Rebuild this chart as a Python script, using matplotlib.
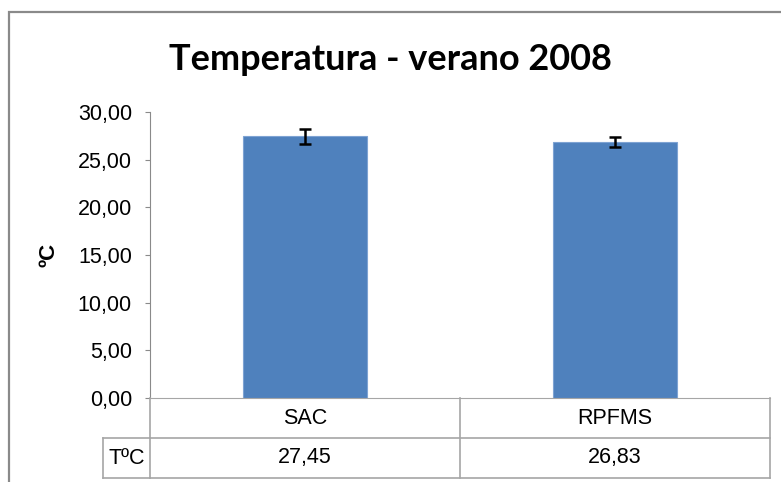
import matplotlib.pyplot as plt
from matplotlib.patches import Rectangle
from matplotlib.lines import Line2D
from matplotlib.transforms import blended_transform_factory

# Datos del gráfico
categorias = ['SAC', 'RPFMS']
temperaturas = [27.45, 26.83]
errores = [0.8, 0.5]
etiqueta_fila = 'TºC'
ticks_y = [0, 5, 10, 15, 20, 25, 30]

W, H = 781, 482
plt.rcParams['font.family'] = ['Liberation Sans', 'DejaVu Sans']
fig = plt.figure(figsize=(W / 100, H / 100), dpi=100)

gris = '#8a8a8a'
gris_tabla = '#a6a6a6'

# Marco exterior del gráfico (recortado a la derecha y abajo)
fig.patches.append(Rectangle((9 / W, -0.2), 1.2, 1.2 - 12 / H, transform=fig.transFigure,
                             fill=False, edgecolor=gris, linewidth=1.6))

# Eje principal
ax = fig.add_axes([150 / W, 1 - 398 / H, 620 / W, 286 / H])
x = range(len(categorias))
ax.bar(x, temperaturas, width=0.4, color='#4f81bd', edgecolor='#7ea3d3', linewidth=0.8,
       yerr=errores, error_kw=dict(ecolor='black', elinewidth=1.8, capsize=4, capthick=1.8))
ax.set_xlim(-0.5, len(categorias) - 0.5)
ax.set_ylim(0, 30)
ax.set_yticks(ticks_y)
ax.set_yticklabels([f'{v:.2f}'.replace('.', ',') for v in ticks_y], fontsize=15.5)
ax.set_xticks([])
for s in ['top', 'right']:
    ax.spines[s].set_visible(False)
ax.spines['left'].set_color(gris)
ax.spines['bottom'].set_color(gris_tabla)
ax.tick_params(axis='y', length=3.6, color=gris, pad=9.4)
ax.set_ylabel('ºC', fontsize=16, fontweight='bold', labelpad=13)

fig.text(390 / W, 1 - 70 / H, 'Temperatura - verano 2008', ha='center', va='baseline',
         fontsize=26, fontweight='bold', family=['Lato', 'DejaVu Sans'])

# Tabla de datos bajo el eje
tab = fig.add_axes([150 / W, 1 - 478 / H, 620 / W, 80 / H])
tab.set_xlim(ax.get_xlim())
tab.set_ylim(0, 2)
tab.axis('off')
tr = blended_transform_factory(ax.transData, tab.transData)
lx = -0.5 - 47 / 620 * len(categorias)

lineas = [
    ([-0.5, 1.5], [1, 1]),
    ([-0.5, 1.5], [0, 0]),
    ([lx, -0.5], [1, 1]),
    ([lx, -0.5], [0, 0]),
    ([lx, lx], [0, 1]),
    ([-0.5, -0.5], [0, 2]),
    ([0.5, 0.5], [0, 2]),
    ([1.5, 1.5], [0, 2]),
]
for xs, ys in lineas:
    tab.add_line(Line2D(xs, ys, transform=tr, color=gris_tabla, linewidth=1.2, clip_on=False))

for i, (cat, val) in enumerate(zip(categorias, temperaturas)):
    tab.text(i, 1.5, cat, transform=tr, ha='center', va='center', fontsize=15.5)
    tab.text(i, 0.5, f'{val:.2f}'.replace('.', ','), transform=tr, ha='center', va='center',
             fontsize=15.5)
tab.text((lx - 0.5) / 2, 0.5, etiqueta_fila, transform=tr, ha='center', va='center',
         fontsize=15.5)

fig.savefig('out.png', dpi=100)
